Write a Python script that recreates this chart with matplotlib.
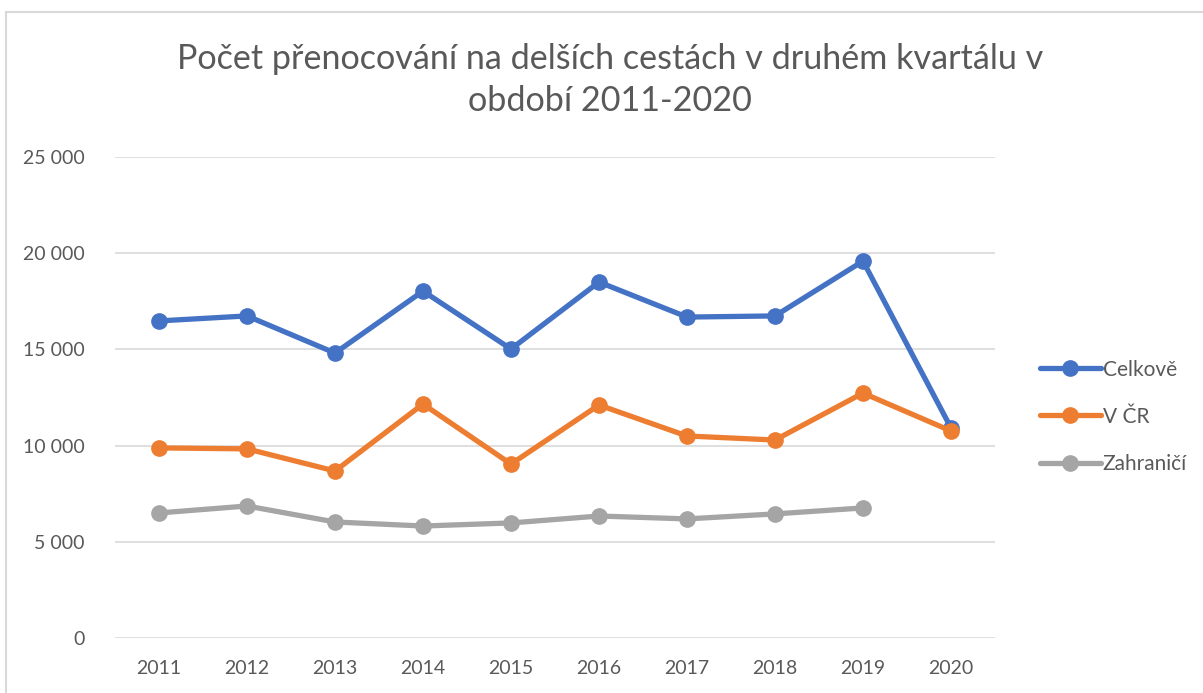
import numpy as np
import matplotlib.pyplot as plt
from matplotlib.patches import Rectangle

# data
years = ['2011', '2012', '2013', '2014', '2015', '2016', '2017', '2018', '2019', '2020']
celkove = [16480, 16740, 14810, 18030, 15020, 18500, 16680, 16740, 19590, 10920]
v_cr = [9880, 9830, 8680, 12160, 9040, 12110, 10500, 10290, 12730, 10760]
zahranici = [6500, 6860, 6030, 5820, 5980, 6340, 6190, 6450, 6760, np.nan]

series = [('Celkově', celkove, '#4472C4'),
          ('V ČR', v_cr, '#ED7D31'),
          ('Zahraničí', zahranici, '#A5A5A5')]

plt.rcParams['font.family'] = ['Lato', 'DejaVu Sans']

fig = plt.figure(figsize=(12.03, 6.93), dpi=100)
ax = fig.add_axes([115/1203, 1 - 638/693, 880/1203, 481/693])

# outer chart border (cut off at the right/bottom like the screenshot)
fig.patches.append(Rectangle((6/1203, -0.05), 1.2, (693 - 12)/693 + 0.05,
                             transform=fig.transFigure, fill=False,
                             edgecolor='#D9D9D9', linewidth=1.5))

x = np.arange(len(years))
for name, vals, col in series:
    ax.plot(x, vals, color=col, linewidth=3.8, marker='o', markersize=11,
            label=name, solid_capstyle='round')

ax.set_xlim(-0.5, len(years) - 0.5)
ax.set_ylim(0, 25000)
ax.set_yticks(np.arange(0, 25001, 5000))
ax.set_yticklabels([f'{v:,}'.replace(',', ' ') for v in range(0, 25001, 5000)])
ax.set_xticks(x)
ax.set_xticklabels(years)
ax.grid(axis='y', color='#D9D9D9', linewidth=1.2)
ax.set_axisbelow(True)
for s in ax.spines.values():
    s.set_visible(False)
ax.tick_params(length=0, labelsize=14, labelcolor='#595959')
ax.tick_params(axis='y', pad=22)
ax.tick_params(axis='x', pad=16)

fig.text(610/1203, 1 - 80/693,
         'Počet přenocování na delších cestách v druhém kvartálu v\nobdobí 2011-2020',
         ha='center', va='center', fontsize=24.6, color='#595959',
         linespacing=1.4)

ax.legend(loc='center left', bbox_to_anchor=(1.03, 0.46), frameon=False,
          fontsize=15, labelcolor='#595959', handlelength=2.9,
          handletextpad=0.1, labelspacing=1.3)

fig.savefig('out.png', dpi=100)
